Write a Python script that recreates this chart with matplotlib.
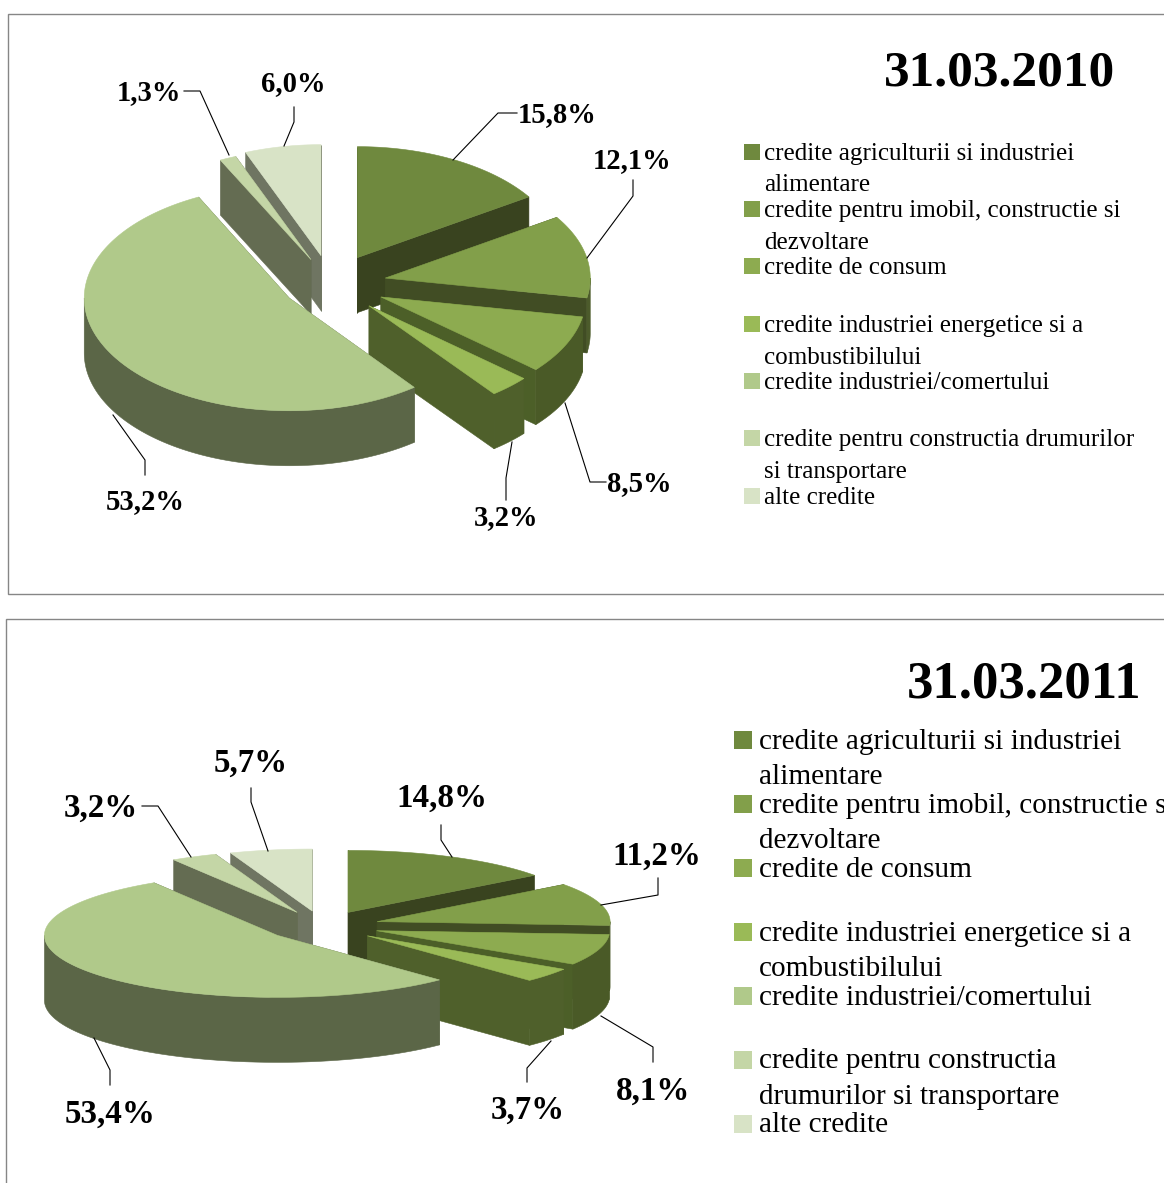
import numpy as np
import matplotlib
matplotlib.use("Agg")
import matplotlib.pyplot as plt
from matplotlib.patches import Polygon, Rectangle

categories = [
    "credite agriculturii si industriei\nalimentare",
    "credite pentru imobil, constructie si\ndezvoltare",
    "credite de consum",
    "credite industriei energetice si a\ncombustibilului",
    "credite industriei/comertului",
    "credite pentru constructia drumurilor\nsi transportare",
    "alte credite",
]
categories_2011 = list(categories)
categories_2011[5] = "credite pentru constructia\ndrumurilor si transportare"

values_2010 = [15.8, 12.1, 8.5, 3.2, 53.2, 1.3, 6.0]
values_2011 = [14.8, 11.2, 8.1, 3.7, 53.4, 3.2, 5.7]

top_colors = ["#6f893e", "#829f4a", "#8dab50", "#9aba57", "#b0c98a", "#c4d6a6", "#d8e3c6"]
radial_colors = ["#39431f", "#414d24", "#4c5f28", "#4f602b", "#5b6647", "#646c52", "#6f7562"]
outer_colors = ["#39431f", "#4c5b2b", "#4a5a27", "#4f602b", "#5b6647", "#646c52", "#6f7562"]
draw_order = [6, 5, 0, 1, 2, 3, 4]
explode_2010 = [0.27, 0.27, 0.27, 0.27, 0.24, 0.24, 0.26]
explode_2011 = [0.245, 0.245, 0.245, 0.25, 0.245, 0.245, 0.245]
ry_scale_2010 = [1, 1, 1, 1, 1.015, 1, 1]
ry_scale_2011 = [1, 1, 1, 1, 1, 1, 1]

plt.rcParams["font.family"] = ["Liberation Serif", "DejaVu Serif"]
fig = plt.figure(figsize=(11.64, 11.83), dpi=100)
ax = fig.add_axes([0, 0, 1, 1])
ax.set_xlim(0, 1164)
ax.set_ylim(1183, 0)
ax.axis("off")


def point(apex, rx, ry, th):
    return apex[0] + rx * np.sin(th), apex[1] - ry * np.cos(th)


def pie3d(values, center, rx, ry0, depth, explode, ry_scale):
    v = np.asarray(values, float)
    edges = np.concatenate([[0], np.cumsum(v) / v.sum()]) * 2 * np.pi
    z = 2.0
    for i in draw_order:
        ry = ry0 * ry_scale[i]
        t0, t1 = edges[i], edges[i + 1]
        mid = (t0 + t1) / 2
        apex = (center[0] + explode[i] * rx * np.sin(mid), center[1] - explode[i] * ry0 * np.cos(mid))
        # radial walls
        for t in (t0, t1):
            x, y = point(apex, rx, ry, t)
            ax.add_patch(Polygon([apex, (x, y), (x, y + depth), (apex[0], apex[1] + depth)],
                                 closed=True, fc=radial_colors[i], ec=radial_colors[i], lw=0.4, zorder=z))
        # outer wall, front half only
        a, b = max(t0, np.pi / 2), min(t1, 3 * np.pi / 2)
        if b > a:
            th = np.linspace(a, b, 120)
            x, y = point(apex, rx, ry, th)
            pts = np.r_[np.c_[x, y], np.c_[x[::-1], y[::-1] + depth]]
            ax.add_patch(Polygon(pts, closed=True, fc=outer_colors[i], ec=outer_colors[i], lw=0.4, zorder=z + 0.1))
        # top face
        th = np.linspace(t0, t1, 160)
        x, y = point(apex, rx, ry, th)
        pts = np.r_[[apex], np.c_[x, y]]
        ax.add_patch(Polygon(pts, closed=True, fc=top_colors[i], ec=top_colors[i], lw=0.4, zorder=z + 0.2))
        z += 1


def texts_and_legend(title, title_xy, title_fs, cats, swatch_x, swatch_size, text_x, leg_fs, rows):
    ax.text(title_xy[0], title_xy[1], title, fontsize=title_fs, fontweight="bold",
            ha="center", va="center", color="black", zorder=30)
    for cat, col, ys in zip(cats, top_colors, rows):
        lines = cat.split("\n")
        ax.add_patch(Rectangle((swatch_x, ys[0] - swatch_size / 2), swatch_size, swatch_size,
                               fc=col, ec="none", zorder=30))
        for ln, y in zip(lines, ys):
            ax.text(text_x, y + 1.5, ln, fontsize=leg_fs, ha="left", va="center", color="black",
                    zorder=30, clip_on=True)


def labels(values, xy, fs, leaders):
    for val, (x, y), lead in zip(values, xy, leaders):
        ax.text(x, y + 2, f"{val:.1f}%".replace(".", ","), fontsize=fs, fontweight="bold",
                ha="center", va="center", color="black", zorder=31)
        px, py = zip(*lead)
        ax.plot(px, py, color="black", lw=0.8, zorder=29)


# frames
ax.add_patch(Rectangle((8, 14), 1170, 580, fc="white", ec="#868686", lw=1.0, zorder=1))
ax.add_patch(Rectangle((6, 619), 1170, 600, fc="white", ec="#868686", lw=1.0, zorder=1))

pie3d(values_2010, (331, 284), 205, 111, 55, explode_2010, ry_scale_2010)
pie3d(values_2011, (322.4, 926), 233, 62, 65, explode_2011, ry_scale_2011)

texts_and_legend("31.03.2010", (1000, 73), 37, categories, 744, 16, 764, 18.1,
                 [(152, 183), (209, 241), (266,), (324, 356), (381,), (438, 470), (496,)])
texts_and_legend("31.03.2011", (1024, 684), 38, categories_2011, 734, 18, 759, 21.1,
                 [(740, 775), (804, 839), (868,), (932, 967), (996,), (1060, 1095), (1124,)])

labels(values_2010,
       [(557, 113), (632, 159), (639, 482), (506, 516), (145, 500), (149, 91), (293, 82)], 20.6,
       [[(517, 113), (498, 113), (453, 160)],
        [(633, 180), (633, 196), (587, 258)],
        [(606, 482), (590, 482), (565, 403)],
        [(506, 500), (506, 478), (512, 442)],
        [(145, 475), (145, 460), (113, 415)],
        [(184, 91), (200, 91), (229, 155)],
        [(294, 107), (294, 122), (284, 146)]])
labels(values_2011,
       [(442, 796), (657, 854), (653, 1089), (528, 1108), (110, 1112), (101, 806), (251, 761)], 23.8,
       [[(441, 825), (441, 840), (452, 857)],
        [(658, 878), (658, 895), (601, 905)],
        [(653, 1062), (653, 1047), (601, 1016)],
        [(527, 1082), (527, 1068), (551, 1041)],
        [(110, 1085), (110, 1070), (94, 1038)],
        [(142, 806), (158, 806), (191, 857)],
        [(251, 788), (251, 802), (268, 851)]])

fig.savefig("out.png", dpi=100, facecolor="white")
